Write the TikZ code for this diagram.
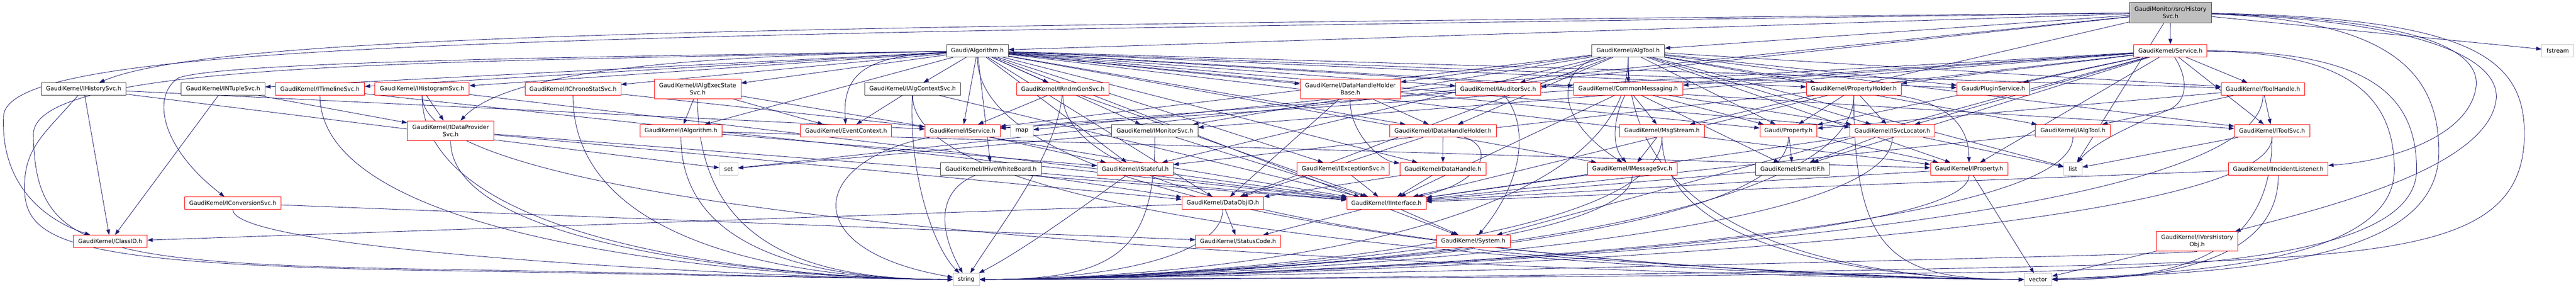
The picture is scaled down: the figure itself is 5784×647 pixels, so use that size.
\documentclass[tikz,border=0pt]{standalone}
\usepackage{fontspec}
\setmainfont{DejaVu Sans}
\usetikzlibrary{arrows.meta}
\definecolor{edgec}{HTML}{191970}
\definecolor{boxblk}{HTML}{404040}
\definecolor{boxgry}{HTML}{BFBFBF}
\definecolor{rootfill}{HTML}{BFBFBF}
\pgfdeclarelayer{edgelayer}
\pgfsetlayers{edgelayer,main}
\newcommand\toSL[1]{\draw[e] (#1) .. controls (#1 |- ctl) and (sLc) .. (string);}
\newcommand\toSR[1]{\draw[e] (#1) .. controls (#1 |- ctl) and (sRc) .. (string);}
\newcommand\toVL[1]{\draw[e] (#1) .. controls (#1 |- ctl) and (vLc) .. (vector);}
\newcommand\toVR[1]{\draw[e] (#1) .. controls (#1 |- ctl) and (vRc) .. (vector);}
\begin{document}
\begin{tikzpicture}[x=1pt,y=-1pt,
  nb/.style={draw, line width=1pt, fill=white, inner sep=0pt, minimum height=28pt,
    font=\fontsize{13}{16.5}\selectfont, align=center, text=black},
  rb/.style={nb, draw=red},
  kb/.style={nb, draw=boxblk},
  gb/.style={nb, draw=boxgry},
  two/.style={minimum height=44.5pt},
  e/.style={draw=edgec, line width=1pt, -{Triangle[length=12pt,width=8.5pt]}},
]
\useasboundingbox (0,0) rectangle (5784,647);
\coordinate (ctl) at (0,570);
\coordinate (sLc) at (1850,626.6);
\coordinate (sRc) at (2500,626.6);
\coordinate (vLc) at (4250,626.6);
\coordinate (vRc) at (4900,626.6);

% rank 0/1
\node[kb, two, minimum height=45.5pt, minimum width=184.3pt, fill=rootfill] (root) at (4873.4,28.1) {GaudiMonitor/src/History\\Svc.h};
\node[kb, minimum width=138.7pt] (alg) at (2194.5,113.7) {Gaudi/Algorithm.h};
\node[kb, minimum width=163.5pt] (algtool) at (3655.7,113.7) {GaudiKernel/AlgTool.h};
\node[rb, minimum width=164.6pt] (service) at (4873.2,113.7) {GaudiKernel/Service.h};
\node[gb, minimum width=72pt] (fstream) at (5743,113.7) {fstream};
% rank 2
\node[kb, minimum width=190.5pt] (ihistsvc) at (187.8,199.5) {GaudiKernel/IHistorySvc.h};
\node[kb, minimum width=188pt] (intuple) at (501,199.5) {GaudiKernel/INTupleSvc.h};
\node[rb, minimum width=200.5pt] (itimeline) at (718.4,199.5) {GaudiKernel/ITimelineSvc.h};
\node[rb, minimum width=211.6pt] (ihistogram) at (947.7,199.5) {GaudiKernel/IHistogramSvc.h};
\node[rb, minimum width=215.3pt] (ichrono) at (1286.5,199.5) {GaudiKernel/IChronoStatSvc.h};
\node[rb, two, minimum width=194.2pt] (iexec) at (1566.4,199.5) {GaudiKernel/IAlgExecState\\Svc.h};
\node[kb, minimum width=215.7pt] (ialgctx) at (2049,199.5) {GaudiKernel/IAlgContextSvc.h};
\node[rb, minimum width=207pt] (irndm) at (2386.5,199.5) {GaudiKernel/IRndmGenSvc.h};
\node[rb, two, minimum width=224.5pt] (dhhbase) at (3031.9,199.5) {GaudiKernel/DataHandleHolder\\Base.h};
\node[rb, minimum width=190.8pt] (iauditor) at (3363.8,199.5) {GaudiKernel/IAuditorSvc.h};
\node[rb, minimum width=245.7pt] (commonmsg) at (3655.7,199.5) {GaudiKernel/CommonMessaging.h};
\node[rb, minimum width=213pt] (propholder) at (4162.4,199.5) {GaudiKernel/PropertyHolder.h};
\node[rb, minimum width=163.5pt] (pluginsvc) at (4475.7,199.5) {Gaudi/PluginService.h};
\node[rb, minimum width=187.7pt] (toolhandle) at (5081,199.5) {GaudiKernel/ToolHandle.h};
% rank 3
\node[rb, two, minimum height=45pt, minimum width=194pt] (idataprov) at (1011.8,293.2) {GaudiKernel/IDataProvider\\Svc.h};
\node[rb, minimum width=184.6pt] (ialgorithm) at (1529,293.2) {GaudiKernel/IAlgorithm.h};
\node[rb, minimum width=205pt] (eventctx) at (1899.8,293.2) {GaudiKernel/EventContext.h};
\node[rb, minimum width=168.3pt] (iservice) at (2161.2,293.2) {GaudiKernel/IService.h};
\node[gb, minimum width=50pt] (map) at (2294.5,293.2) {map};
\node[kb, minimum width=193.5pt] (imonitor) at (2593,293.2) {GaudiKernel/IMonitorSvc.h};
\node[rb, minimum width=239.4pt] (idhh) at (3240,293.2) {GaudiKernel/IDataHandleHolder.h};
\node[rb, minimum width=190.5pt] (msgstream) at (3731.7,293.2) {GaudiKernel/MsgStream.h};
\node[rb, minimum width=128.3pt] (gprop) at (4015.7,293.2) {Gaudi/Property.h};
\node[rb, minimum width=190.5pt] (isvcloc) at (4249,293.2) {GaudiKernel/ISvcLocator.h};
\node[rb, minimum width=168pt] (ialgtool) at (4654.3,293.2) {GaudiKernel/IAlgTool.h};
\node[rb, minimum width=169pt] (itoolsvc) at (5101.4,293.2) {GaudiKernel/IToolSvc.h};
% rank 4
\node[gb, minimum width=41pt] (set) at (1636,378.6) {set};
\node[kb, minimum width=226pt] (ihive) at (2225,378.6) {GaudiKernel/IHiveWhiteBoard.h};
\node[rb, minimum width=170.5pt] (istateful) at (2549,378.6) {GaudiKernel/IStateful.h};
\node[rb, minimum width=207.5pt] (iexception) at (3016,378.6) {GaudiKernel/IExceptionSvc.h};
\node[rb, minimum width=193.5pt] (datahandle) at (3239.8,378.6) {GaudiKernel/DataHandle.h};
\node[rb, minimum width=201.6pt] (imessage) at (3665,378.6) {GaudiKernel/IMessageSvc.h};
\node[kb, minimum width=165.6pt] (smartif) at (4024.8,378.6) {GaudiKernel/SmartIF.h};
\node[rb, minimum width=173.5pt] (iproperty) at (4421.2,378.6) {GaudiKernel/IProperty.h};
\node[gb, minimum width=41pt] (list) at (4654.5,378.6) {list};
\node[rb, minimum width=223pt] (iincident) at (5115.6,378.6) {GaudiKernel/IIncidentListener.h};
% rank 5
\node[rb, minimum width=216.6pt] (iconv) at (522.7,455.3) {GaudiKernel/IConversionSvc.h};
\node[rb, minimum width=183.5pt] (dataobjid) at (2745.5,455.3) {GaudiKernel/DataObjID.h};
\node[rb, minimum width=178.3pt] (iinterface) at (3113,455.3) {GaudiKernel/IInterface.h};
% rank 6
\node[rb, minimum width=165.7pt] (classid) at (247.5,541.1) {GaudiKernel/ClassID.h};
\node[rb, minimum width=190pt] (statuscode) at (2779.8,541.1) {GaudiKernel/StatusCode.h};
\node[rb, minimum width=165pt] (system) at (3308,541.1) {GaudiKernel/System.h};
\node[rb, two, minimum width=182.8pt] (iversh) at (4933.3,541) {GaudiKernel/IVersHistory\\Obj.h};
% rank 7
\node[gb, minimum width=59pt] (string) at (2169.5,626.6) {string};
\node[gb, minimum width=62pt] (vector) at (4576,626.6) {vector};

\begin{pgfonlayer}{edgelayer}
% ---- edges from root
\draw[e] (root) -- (service);
\draw[e] (root) -- (fstream);
\draw[e] (root) -- (alg);
\draw[e] (root) -- (algtool);
\draw[e] (root) -- (msgstream);
\draw[e] (root) -- (map);
\draw[e] (root) -- (set);
\draw[e] (root) -- (list);
\draw[e] (root) .. controls (1800,60) and (500,70) .. (ihistsvc);
\draw[e] (root) .. controls (1200,80) and (20,90) .. (8,260) .. controls (0,430) and (120,500) .. (classid);
\draw[e] (root) .. controls (5350,40) and (5565,90) .. (5560,190) .. controls (5550,300) and (5380,360) .. (iincident);
\draw[e] (root) .. controls (5400,45) and (5610,120) .. (5605,220) .. controls (5590,380) and (5200,470) .. (iversh);
\draw[e] (root) .. controls (5550,40) and (5668,130) .. (5668,300) .. controls (5668,550) and (5400,570) .. (4800,592) .. controls (3800,618) and (2700,626) .. (string);
\draw[e] (root) .. controls (5350,45) and (5476,150) .. (5476,340) .. controls (5476,570) and (5100,610) .. (vector);

% ---- edges from Gaudi/Algorithm.h
\foreach \t in {intuple,itimeline,ihistogram,ichrono,iexec,ialgorithm,ialgctx,iservice,irndm,imonitor,istateful,dataobjid,dhhbase,iauditor,iexception,commonmsg,propholder,pluginsvc,gprop,isvcloc,iproperty,itoolsvc,toolhandle,ihive,imessage,idhh,datahandle,system}
  {\draw[e] (alg) -- (\t);}
\draw[e] (alg) .. controls (1500,125) and (500,135) .. (400,175) .. controls (340,215) and (360,330) .. (iconv);
\draw[e] (alg) .. controls (1600,125) and (1150,150) .. (idataprov);
\draw[e] (alg) .. controls (1950,125) and (1890,160) .. (eventctx);
\draw[e] (alg) .. controls (1000,140) and (80,135) .. (75,300) .. controls (78,560) and (200,592) .. (1000,604) .. controls (1600,614) and (1900,624) .. (string);
\toVL{alg}

% ---- edges from AlgTool.h
\foreach \t in {commonmsg,ialgtool,iauditor,imonitor,iproperty,iservice,istateful,isvcloc,itoolsvc,propholder,toolhandle,pluginsvc,dhhbase,dataobjid,idhh,gprop,list}
  {\draw[e] (algtool) -- (\t);}
\draw[e] (algtool) .. controls (3500,150) and (3480,260) .. (imessage);
\toSR{algtool}
\toVL{algtool}

% ---- edges from Service.h
\foreach \t in {toolhandle,commonmsg,iauditor,iproperty,iservice,istateful,isvcloc,propholder,pluginsvc,imonitor,itoolsvc,gprop,smartif,system}
  {\draw[e] (service) -- (\t);}
\draw[e] (service) .. controls (4910,170) and (4920,230) .. (4860,250) .. controls (4790,280) and (4700,320) .. (list);
\draw[e] (service) .. controls (5300,115) and (5426,200) .. (5426,380) .. controls (5426,560) and (5000,600) .. (4500,610) .. controls (3500,622) and (2700,626) .. (string);
\draw[e] (service) .. controls (5250,118) and (5376,200) .. (5376,380) .. controls (5376,570) and (5000,610) .. (vector);

% ---- second level
\draw[e] (ihistsvc) -- (classid);
\draw[e] (ihistsvc) -- (iservice);
\draw[e] (ihistsvc) -- (set);
\draw[e] (ihistsvc) .. controls (100,300) and (55,330) .. (55,420) .. controls (55,540) and (150,590) .. (900,605) .. controls (1500,615) and (1900,624) .. (string);
\draw[e] (intuple) -- (classid);
\draw[e] (intuple) -- (idataprov);
\toSL{iconv}
\draw[e] (iconv) -- (statuscode);
\toSL{itimeline}
\draw[e] (itimeline) -- (iinterface);
\draw[e] (ihistogram) -- (idataprov);
\toSL{ihistogram}
\toVL{ihistogram}
\draw[e] (ihistogram) -- (iinterface);
\toSL{idataprov}
\draw[e] (idataprov) -- (iinterface);
\draw[e] (idataprov) -- (dataobjid);
\toSL{ichrono}
\draw[e] (ichrono) -- (iservice);
\draw[e] (iexec) -- (ialgorithm);
\draw[e] (iexec) -- (eventctx);
\toSL{iexec}
\draw[e] (iexec) -- (iinterface);
\draw[e] (ialgorithm) -- (istateful);
\draw[e] (ialgorithm) -- (iproperty);
\toSL{ialgorithm}
\draw[e] (ialgctx) -- (eventctx);
\draw[e] (ialgctx) .. controls (2040,400) and (2100,560) .. (string);
\draw[e] (ialgctx) -- (iinterface);
\toVL{ialgctx}
\draw[e] (iservice) -- (istateful);
\draw[e] (iservice) .. controls (1820,360) and (1780,560) .. (string);
\draw[e] (ihive) .. controls (2100,430) and (2110,520) .. (string);
\draw[e] (ihive) -- (dataobjid);
\draw[e] (ihive) -- (iinterface);
\draw[e] (irndm) -- (iservice);
\draw[e] (irndm) .. controls (2370,350) and (2250,500) .. (string);
\toVL{irndm}
\draw[e] (irndm) -- (iinterface);
\draw[e] (imonitor) -- (set);
\draw[e] (imonitor) -- (iinterface);
\toSR{imonitor}
\draw[e] (istateful) -- (iinterface);
\draw[e] (istateful) .. controls (2450,450) and (2300,560) .. (string);
\draw[e] (dataobjid) -- (classid);
\draw[e] (dataobjid) -- (statuscode);
\toSR{dataobjid}
\draw[e] (dhhbase) -- (dataobjid);
\draw[e] (dhhbase) .. controls (3030,300) and (3100,360) .. (datahandle);
\draw[e] (dhhbase) -- (idhh);
\draw[e] (iauditor) .. controls (3420,260) and (3440,380) .. (system);
\draw[e] (iauditor) -- (iservice);
\draw[e] (idhh) -- (datahandle);
\draw[e] (idhh) .. controls (3360,330) and (3330,410) .. (iinterface);
\draw[e] (idhh) -- (dataobjid);
\draw[e] (iexception) -- (iinterface);
\draw[e] (datahandle) -- (dataobjid);
\draw[e] (datahandle) -- (iinterface);
\draw[e] (commonmsg) -- (msgstream);
\draw[e] (commonmsg) .. controls (3620,270) and (3620,330) .. (imessage);
\draw[e] (commonmsg) -- (smartif);
\draw[e] (commonmsg) -- (gprop);
\draw[e] (commonmsg) -- (isvcloc);
\draw[e] (commonmsg) -- (iinterface);
\draw[e] (msgstream) -- (imessage);
\toSR{msgstream}
\toVL{msgstream}
\toSR{imessage}
\draw[e] (imessage) -- (iinterface);
\draw[e] (gprop) -- (iproperty);
\draw[e] (gprop) -- (smartif);
\toSR{gprop}
\draw[e] (smartif) -- (iinterface);
\draw[e] (propholder) -- (gprop);
\draw[e] (propholder) -- (isvcloc);
\draw[e] (propholder) .. controls (4300,220) and (4420,240) .. (iproperty);
\toSR{propholder}
\draw[e] (propholder) -- (iinterface);
\toVL{propholder}
\draw[e] (isvcloc) -- (smartif);
\toSR{isvcloc}
\draw[e] (isvcloc) -- (iinterface);
\draw[e] (isvcloc) -- (list);
\toSR{iproperty}
\draw[e] (iproperty) -- (vector);
\draw[e] (iproperty) -- (iinterface);
\toSR{ialgtool}
\draw[e] (ialgtool) -- (iinterface);
\draw[e] (toolhandle) -- (itoolsvc);
\draw[e] (toolhandle) -- (ialgtool);
\draw[e] (toolhandle) -- (gprop);
\toSR{toolhandle}
\toSR{itoolsvc}
\toVR{itoolsvc}
\draw[e] (itoolsvc) -- (list);
\draw[e] (iincident) -- (iinterface);
\toVR{iincident}
\toSR{iversh}
\draw[e] (iversh) -- (vector);
\draw[e] (iinterface) -- (statuscode);
\draw[e] (iinterface) -- (system);
\toSR{system}
\toVL{system}
\end{pgfonlayer}
\end{tikzpicture}
\end{document}
